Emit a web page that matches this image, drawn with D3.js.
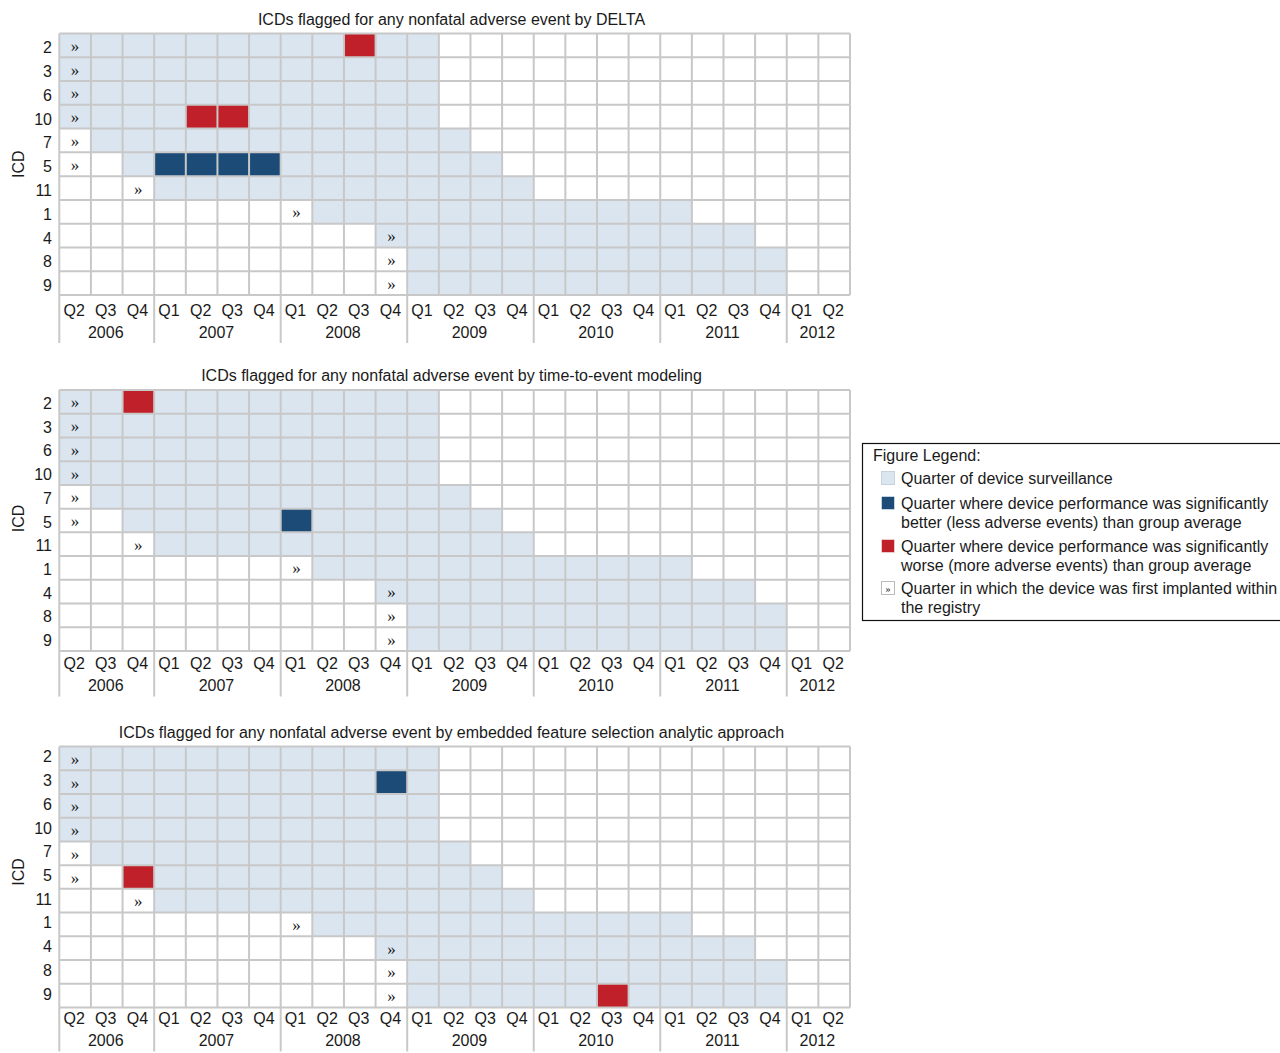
<!DOCTYPE html>
<html>
<head>
<meta charset="utf-8">
<script src="https://cdn.jsdelivr.net/npm/d3@7"></script>
<style>
  html, body { margin: 0; padding: 0; background: #fff; }
  svg { display: block; font-family: "Liberation Sans", Arial, sans-serif; }
</style>
</head>
<body>
<svg id="chart" width="1280" height="1053"></svg>
<script>
// Quarters on the x axis (Q2 2006 – Q2 2012)
const periods = [
  "2006 Q2","2006 Q3","2006 Q4",
  "2007 Q1","2007 Q2","2007 Q3","2007 Q4",
  "2008 Q1","2008 Q2","2008 Q3","2008 Q4",
  "2009 Q1","2009 Q2","2009 Q3","2009 Q4",
  "2010 Q1","2010 Q2","2010 Q3","2010 Q4",
  "2011 Q1","2011 Q2","2011 Q3","2011 Q4",
  "2012 Q1","2012 Q2"
];
const quarterLabels = periods.map(p => p.split(" ")[1]);
const yearLabels = ["2006","2007","2008","2009","2010","2011","2012"];

// Devices, in display order
const icds = ["2","3","6","10","7","5","11","1","4","8","9"];
// Quarter each device was first implanted in the registry
const firstImplanted = ["2006 Q2","2006 Q2","2006 Q2","2006 Q2","2006 Q2","2006 Q2",
                        "2006 Q4","2008 Q1","2008 Q4","2008 Q4","2008 Q4"];
// Surveillance window per device (first and last quarter)
const survFrom = ["2006 Q2","2006 Q2","2006 Q2","2006 Q2","2006 Q3","2006 Q4",
                  "2007 Q1","2008 Q2","2008 Q4","2009 Q1","2009 Q1"];
const survTo   = ["2009 Q1","2009 Q1","2009 Q1","2009 Q1","2009 Q2","2009 Q3",
                  "2009 Q4","2011 Q1","2011 Q3","2011 Q4","2011 Q4"];

// Flagged quarters for each analytic method: [icd, quarter, "better" | "worse"]
const deltaFlags = [
  ["2","2008 Q3","worse"],
  ["10","2007 Q2","worse"], ["10","2007 Q3","worse"],
  ["5","2007 Q1","better"], ["5","2007 Q2","better"], ["5","2007 Q3","better"], ["5","2007 Q4","better"]
];
const tteFlags = [
  ["2","2006 Q4","worse"],
  ["5","2008 Q1","better"]
];
const efsFlags = [
  ["3","2008 Q4","better"],
  ["5","2006 Q4","worse"],
  ["9","2010 Q3","worse"]
];

const panelTitles = [
  "ICDs flagged for any nonfatal adverse event by DELTA",
  "ICDs flagged for any nonfatal adverse event by time-to-event modeling",
  "ICDs flagged for any nonfatal adverse event by embedded feature selection analytic approach"
];
const panelFlags = [deltaFlags, tteFlags, efsFlags];

const legendTitle = "Figure Legend:";
const legendItems = [
  ["surv",   ["Quarter of device surveillance"]],
  ["better", ["Quarter where device performance was significantly", "better (less adverse events) than group average"]],
  ["worse",  ["Quarter where device performance was significantly", "worse (more adverse events) than group average"]],
  ["first",  ["Quarter in which the device was first implanted within", "the registry"]]
];

const colors = {
  surv: "#dbe5f0",
  better: "#1d4b77",
  worse: "#c0202a",
  grid: "#c8c8c8",
  text: "#1a1a1a"
};

const svg = d3.select("#chart");
const gridLeft = 59.3, gridRight = 850;
const fontSize = 16;

// Per-panel placement
const panels = [
  {top: 33.5,  height: 261.5, qOff: 15,   yrOff: 37,   rowOff: 2.5,  icdOff: 0},
  {top: 390,   height: 261,   qOff: 12.5, yrOff: 34.5, rowOff: 1.5,  icdOff: -2},
  {top: 746.5, height: 261,   qOff: 11,   yrOff: 33,   rowOff: -1.5, icdOff: -5}
];

const x = d3.scaleBand().domain(periods).range([gridLeft, gridRight]);
const idx = p => periods.indexOf(p);

panels.forEach((pn, pi) => {
  const top = pn.top, bottom = pn.top + pn.height;
  const y = d3.scaleBand().domain(icds).range([top, bottom]);
  const g = svg.append("g");

  // Title
  g.append("text")
    .attr("x", 451.5)
    .attr("y", top - 14.5)
    .attr("text-anchor", "middle")
    .attr("dominant-baseline", "central")
    .attr("font-size", fontSize)
    .attr("fill", colors.text)
    .text(panelTitles[pi]);

  // Surveillance cells
  const cells = [];
  icds.forEach((icd, i) => {
    periods.forEach((p, j) => {
      const inSurv = j >= idx(survFrom[i]) && j <= idx(survTo[i]);
      cells.push({icd, p, fill: inSurv ? colors.surv : "#fff"});
    });
  });
  g.append("g").selectAll("rect").data(cells).join("rect")
    .attr("x", d => x(d.p))
    .attr("y", d => y(d.icd))
    .attr("width", x.bandwidth())
    .attr("height", y.bandwidth())
    .attr("fill", d => d.fill);

  // Flagged quarters
  g.append("g").selectAll("rect").data(panelFlags[pi]).join("rect")
    .attr("x", d => x(d[1]))
    .attr("y", d => y(d[0]))
    .attr("width", x.bandwidth())
    .attr("height", y.bandwidth())
    .attr("fill", d => colors[d[2]]);

  // Grid lines
  const grid = g.append("g").attr("stroke", colors.grid).attr("stroke-width", 2);
  grid.selectAll("line.v").data(d3.range(periods.length + 1)).join("line")
    .attr("x1", k => gridLeft + k * x.step())
    .attr("x2", k => gridLeft + k * x.step())
    .attr("y1", top).attr("y2", bottom);
  grid.selectAll("line.h").data(d3.range(icds.length + 1)).join("line")
    .attr("x1", gridLeft).attr("x2", gridRight)
    .attr("y1", k => top + k * y.step())
    .attr("y2", k => top + k * y.step());

  // First-implant markers
  g.append("g").selectAll("text").data(icds).join("text")
    .attr("x", (d, i) => x(firstImplanted[i]) + x.bandwidth() / 2)
    .attr("y", d => y(d) + y.bandwidth() / 2 + 1)
    .attr("text-anchor", "middle")
    .attr("dominant-baseline", "central")
    .attr("font-family", "Liberation Serif, serif")
    .attr("font-size", 17)
    .attr("fill", colors.text)
    .text("»");

  // Row labels (ICD ids)
  g.append("g").selectAll("text").data(icds).join("text")
    .attr("x", 52)
    .attr("y", d => y(d) + y.bandwidth() / 2 + pn.rowOff)
    .attr("text-anchor", "end")
    .attr("dominant-baseline", "central")
    .attr("font-size", fontSize)
    .attr("fill", colors.text)
    .text(d => d);

  g.append("text")
    .attr("transform", `translate(18,${(top + bottom) / 2 + pn.icdOff}) rotate(-90)`)
    .attr("text-anchor", "middle")
    .attr("dominant-baseline", "central")
    .attr("font-size", fontSize)
    .attr("fill", colors.text)
    .text("ICD");

  // Quarter tick labels
  g.append("g").selectAll("text").data(periods).join("text")
    .attr("x", d => x(d) + x.bandwidth() / 2 - 1)
    .attr("y", bottom + pn.qOff)
    .attr("text-anchor", "middle")
    .attr("dominant-baseline", "central")
    .attr("font-size", fontSize)
    .attr("fill", colors.text)
    .text((d, i) => quarterLabels[i]);

  // Year groups
  const years = yearLabels.map(yr => {
    const ps = periods.filter(p => p.startsWith(yr));
    return {yr, first: ps[0], last: ps[ps.length - 1]};
  });
  g.append("g").selectAll("text").data(years).join("text")
    .attr("x", d => (x(d.first) + x(d.last) + x.bandwidth()) / 2 - 1)
    .attr("y", bottom + pn.yrOff)
    .attr("text-anchor", "middle")
    .attr("dominant-baseline", "central")
    .attr("font-size", fontSize)
    .attr("fill", colors.text)
    .text(d => d.yr);
  g.append("g").selectAll("line").data(years).join("line")
    .attr("x1", d => x(d.first)).attr("x2", d => x(d.first))
    .attr("y1", bottom).attr("y2", bottom + pn.yrOff + 11)
    .attr("stroke", colors.grid).attr("stroke-width", 2);
});

// Legend
const lg = svg.append("g");
lg.append("rect")
  .attr("x", 862.5).attr("y", 443.5)
  .attr("width", 430).attr("height", 177)
  .attr("fill", "#fff").attr("stroke", "#111").attr("stroke-width", 1.2);
lg.append("text")
  .attr("x", 873).attr("y", 455)
  .attr("dominant-baseline", "central")
  .attr("font-size", fontSize).attr("fill", colors.text)
  .text(legendTitle);
const itemY = [478, 503, 546, 588];
legendItems.forEach(([key, lines], i) => {
  const cy = itemY[i];
  const sw = lg.append("rect")
    .attr("x", 881.5).attr("y", cy - 6.5)
    .attr("width", 13).attr("height", 13);
  if (key === "surv") sw.attr("fill", colors.surv).attr("stroke", "#c8d2dc");
  else if (key === "first") {
    sw.attr("fill", "#fff").attr("stroke", "#bbb");
    lg.append("text")
      .attr("x", 888).attr("y", cy + 0.5)
      .attr("text-anchor", "middle").attr("dominant-baseline", "central")
      .attr("font-family", "Liberation Serif, serif")
      .attr("font-size", 10).attr("fill", colors.text).text("»");
  } else sw.attr("fill", colors[key]).attr("stroke", "#fff").attr("stroke-width", 0.5);
  lines.forEach((t, k) => {
    lg.append("text")
      .attr("x", 901).attr("y", cy + k * 19)
      .attr("dominant-baseline", "central")
      .attr("font-size", fontSize).attr("fill", colors.text)
      .text(t);
  });
});
</script>
</body>
</html>
